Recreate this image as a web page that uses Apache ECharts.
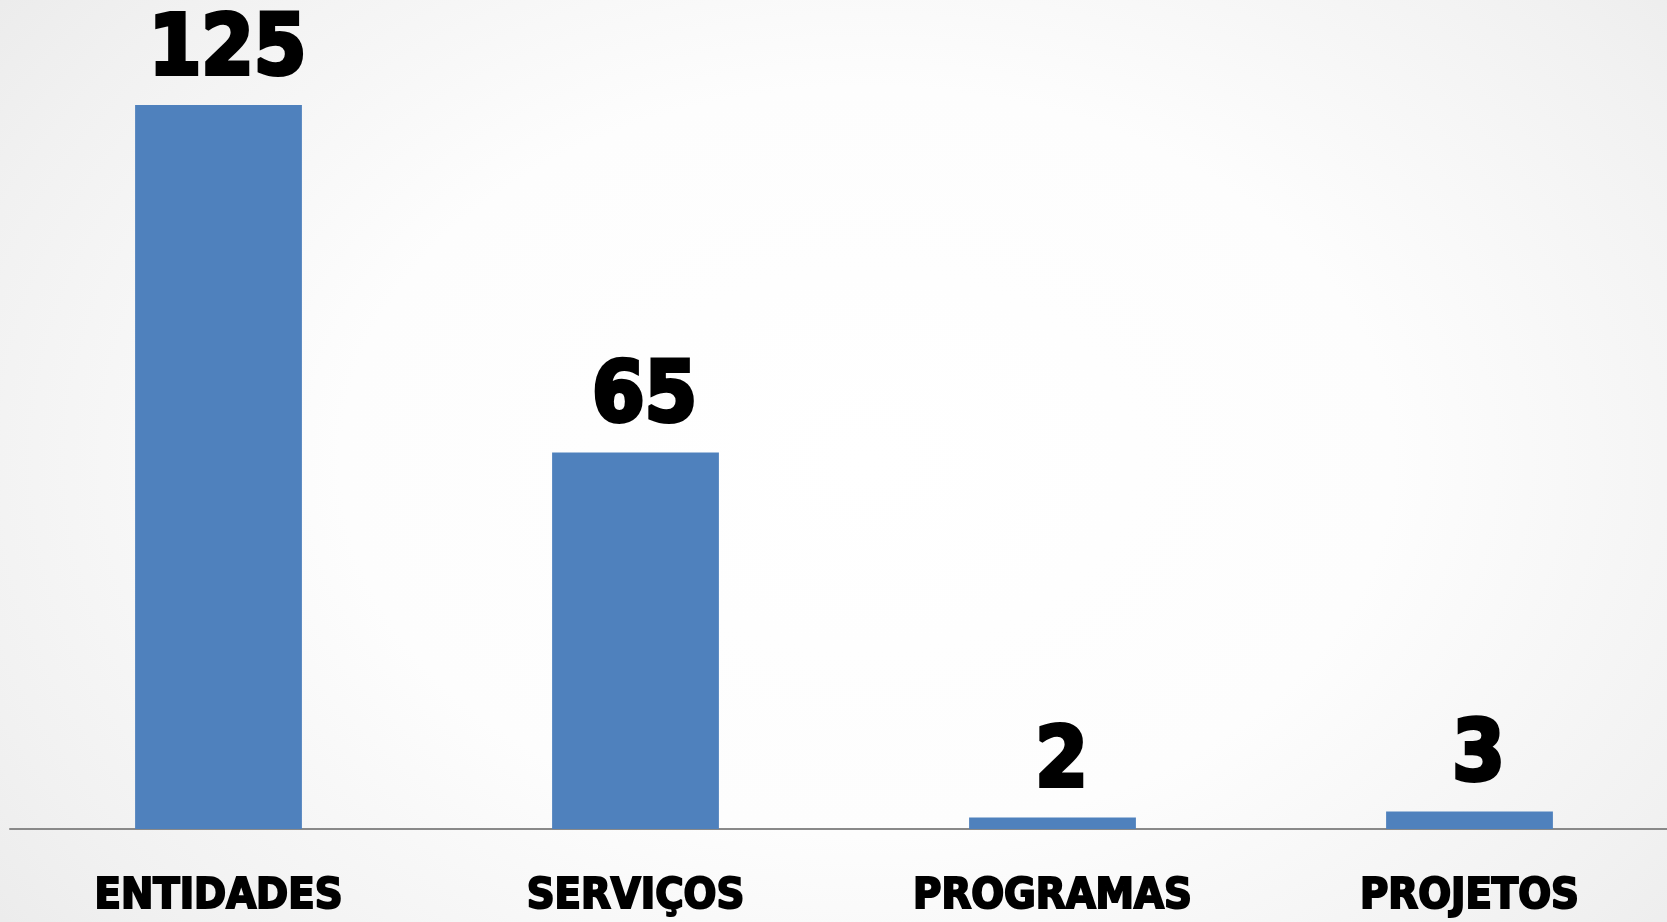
<!DOCTYPE html>
<html>
<head>
<meta charset="utf-8">
<script src="https://cdn.jsdelivr.net/npm/echarts@6/dist/echarts.min.js"></script>
<style>
html,body{margin:0;padding:0;width:1667px;height:922px;overflow:hidden;
background:radial-gradient(ellipse 70% 90% at 52% 50%, #ffffff 0%, #fdfdfd 45%, #f1f1f1 80%, #e9e9e9 100%);}
#c{width:1678px;height:922px;}
</style>
</head>
<body>
<div id="c"></div>
<script>
const categories = ['ENTIDADES', 'SERVIÇOS', 'PROGRAMAS', 'PROJETOS'];
const values = [125, 65, 2, 3];

const chart = echarts.init(document.getElementById('c'));
const heavy = '"DejaVu Sans Condensed", "DejaVu Sans", sans-serif';
chart.setOption({
  backgroundColor: 'transparent',
  animation: false,
  grid: { left: 10, top: 18, right: 0, bottom: 93, containLabel: false },
  xAxis: {
    type: 'category',
    data: categories,
    axisLine: { lineStyle: { color: '#898989', width: 2 } },
    axisTick: { show: false },
    axisLabel: {
      interval: 0,
      margin: 46,
      color: '#000',
      fontFamily: heavy,
      fontWeight: 'bold',
      fontSize: 43,
      textBorderColor: '#000',
      textBorderWidth: 2
    }
  },
  yAxis: {
    type: 'value',
    min: 0,
    max: 140,
    show: false,
    splitLine: { show: false }
  },
  series: [{
    type: 'bar',
    data: values,
    barWidth: '40%',
    itemStyle: { color: '#4f81bd' },
    label: {
      show: true,
      position: 'top',
      distance: 11,
      offset: [9, 0],
      color: '#000',
      fontFamily: heavy,
      fontWeight: 'bold',
      fontSize: 84,
      textBorderColor: '#000',
      textBorderWidth: 4
    }
  }]
});
</script>
</body>
</html>
